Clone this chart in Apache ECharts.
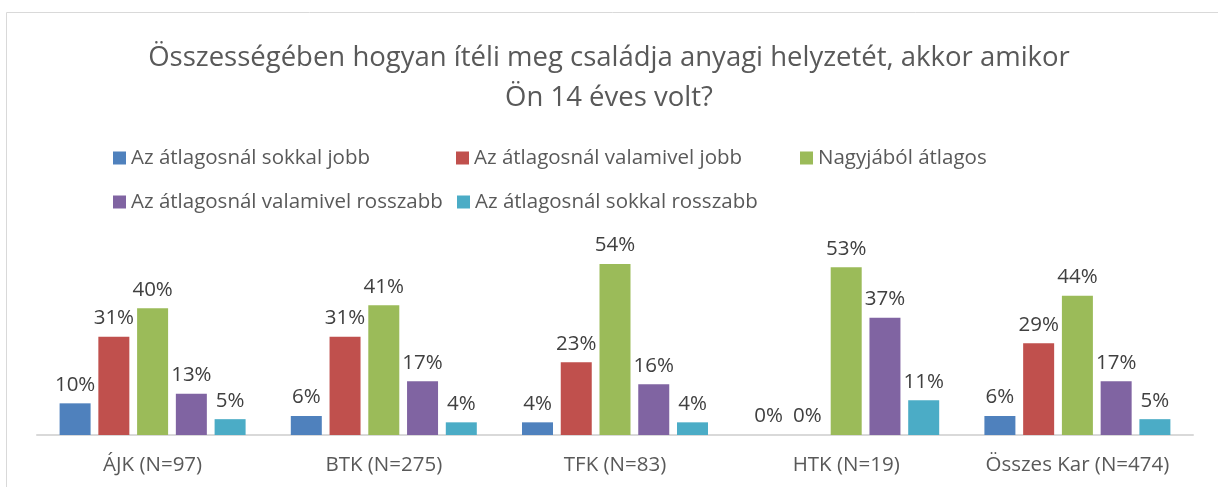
<!DOCTYPE html>
<html>
<head>
<meta charset="utf-8">
<script src="https://cdn.jsdelivr.net/npm/echarts@6/dist/echarts.min.js"></script>
<style>
  html, body { margin: 0; padding: 0; background: #fff; }
  #chart { width: 1218px; height: 487px; }
</style>
</head>
<body>
<div id="chart"></div>
<script>
// adatok
const categories = ['ÁJK (N=97)', 'BTK (N=275)', 'TFK (N=83)', 'HTK (N=19)', 'Összes Kar (N=474)']
const seriesNames = [
  'Az átlagosnál sokkal jobb',
  'Az átlagosnál valamivel jobb',
  'Nagyjából átlagos',
  'Az átlagosnál valamivel rosszabb',
  'Az átlagosnál sokkal rosszabb'
]
const sokkalJobb = [10, 6, 4, 0, 6]
const valamivelJobb = [31, 31, 23, 0, 29]
const atlagos = [40, 41, 54, 53, 44]
const valamivelRosszabb = [13, 17, 16, 37, 17]
const sokkalRosszabb = [5, 4, 4, 11, 5]

const values = [sokkalJobb, valamivelJobb, atlagos, valamivelRosszabb, sokkalRosszabb]
const colors = ['#4F81BD', '#C0504D', '#9BBB59', '#8064A2', '#4BACC6']
const font = '"Open Sans", sans-serif'

const chart = echarts.init(document.getElementById('chart'))

// legend helyek (Excel-szerű oszlopok)
const legendPos = [
  { left: 108, top: 142 },
  { left: 451, top: 142 },
  { left: 795, top: 142 },
  { left: 108, top: 186 },
  { left: 452, top: 186 }
]

const option = {
  animation: false,
  color: colors,
  title: {
    text: 'Összességében hogyan ítéli meg családja anyagi helyzetét, akkor amikor\nÖn 14 éves volt?',
    left: 'center',
    top: 33,
    textStyle: {
      fontFamily: font,
      fontSize: 27.5,
      fontWeight: 'normal',
      color: '#595959',
      lineHeight: 40
    }
  },
  legend: seriesNames.map((n, i) => ({
    data: [n],
    left: legendPos[i].left,
    top: legendPos[i].top,
    itemWidth: 13,
    itemHeight: 13,
    itemGap: 0,
    icon: 'rect',
    textStyle: { fontFamily: font, fontSize: 20.5, color: '#595959', lineHeight: 22 }
  })),
  graphic: [{
    type: 'rect',
    shape: { x: 6.5, y: 12.5, width: 1240, height: 500 },
    style: { fill: 'none', stroke: '#d9d9d9', lineWidth: 1 },
    silent: true
  }],
  grid: { left: 37, right: 25, top: 245, bottom: 52 },
  xAxis: {
    type: 'category',
    data: categories,
    axisLine: { lineStyle: { color: '#d9d9d9', width: 2 } },
    axisTick: { show: false },
    axisLabel: { interval: 0, fontFamily: font, fontSize: 20.5, color: '#595959', margin: 20 }
  },
  yAxis: {
    type: 'value',
    min: 0,
    max: 60,
    show: false,
    splitLine: { show: false }
  },
  series: seriesNames.map((n, i) => ({
    name: n,
    type: 'bar',
    data: values[i],
    barWidth: 31,
    barGap: '25%',
    label: {
      show: true,
      position: 'top',
      distance: 8,
      formatter: '{c}%',
      fontFamily: font,
      fontSize: 20.5,
      color: '#404040'
    }
  }))
}

chart.setOption(option)
</script>
</body>
</html>
